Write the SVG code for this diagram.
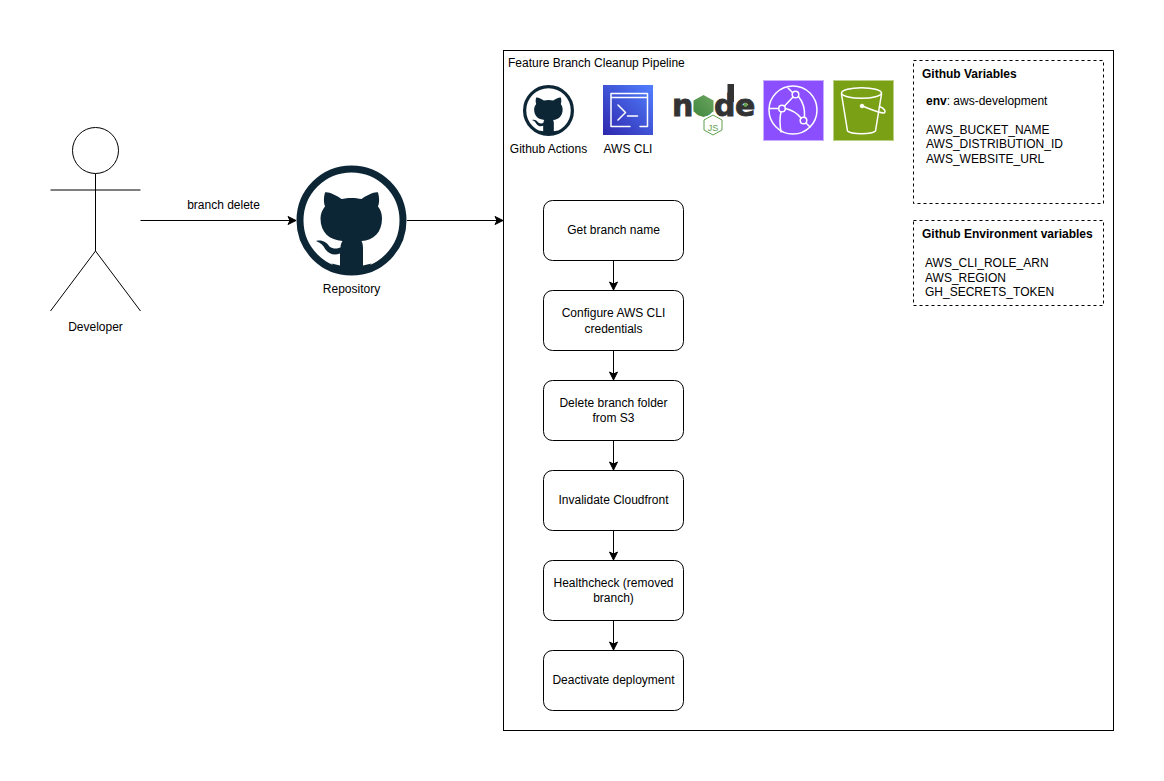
<svg xmlns="http://www.w3.org/2000/svg" width="1164" height="781" viewBox="0 0 1164 781">
<style>
text{font-family:"Liberation Sans",Arial,sans-serif;font-size:12px;fill:#000}
.m{text-anchor:middle}
.b{font-weight:bold}
.box{fill:#fff;stroke:#000;stroke-width:1}
.dash{fill:#fff;stroke:#000;stroke-width:1;stroke-dasharray:3 3}
.line{fill:none;stroke:#000;stroke-width:1}
.conn{fill:none;stroke:#000;stroke-width:1;marker-end:url(#arrow)}
.ico{fill:none;stroke:#fff;stroke-width:1.5;stroke-linecap:round;stroke-linejoin:round}
</style>
<defs>
<marker id="arrow" markerUnits="userSpaceOnUse" markerWidth="10" markerHeight="10" refX="9" refY="5" orient="auto">
<path d="M1,1 L9,5 L1,9 L3,5 Z" fill="#000" stroke="#000" stroke-width="1"/>
</marker>
<linearGradient id="cli" x1="0" y1="1" x2="1" y2="0">
<stop offset="0" stop-color="#2E27AD"/><stop offset="1" stop-color="#527FFF"/>
</linearGradient>
<linearGradient id="nodeg" x1="0" y1="1" x2="1" y2="0">
<stop offset="0" stop-color="#3F873F"/><stop offset="1" stop-color="#6DA55F"/>
</linearGradient>
<symbol id="gh" viewBox="-55 -55 110 110" overflow="visible">
<circle cx="0" cy="0" r="51.5" fill="#fff" stroke="#0D2636" stroke-width="7"/>
<path fill="#0D2636" d="M-26.5,-28 C-23,-29 -15,-25 -10,-21.5 C-4,-23 4,-23 10,-21.5 C15,-25 23,-29 26.5,-28 C28,-23 28,-18 26.5,-14 C29,-11 30.5,-7 30.5,-2 C30.5,12 22,20 10,20.5 C11,22 11.5,25 11.5,28 L11.5,45 L20,43 L14,50 L-14,50 L-20,43 L-11.5,45 L-11.5,33 C-17,35 -22,34 -26,29 C-28,25 -31,22 -35.5,20.5 C-29,19 -25,22 -22,26 C-18,29 -14,28 -11,27 C-11,24 -10,22 -9,20.5 C-22,19.5 -31,12 -31,-2 C-31,-7 -29,-11 -26.5,-14 C-28,-18 -28,-23 -26.5,-28 Z"/>
</symbol>
</defs>

<g id="pipeline">
<rect x="503.5" y="50.5" width="610" height="680" fill="#fff" stroke="#000"/>
<text x="508" y="67">Feature Branch Cleanup Pipeline</text>
</g>

<g id="connectors">
<path class="conn" d="M140.5,220.5 H296"/>
<path class="conn" d="M407,220.5 H503"/>
<path class="conn" d="M613.5,260.5 V290"/>
<path class="conn" d="M613.5,350.5 V380"/>
<path class="conn" d="M613.5,440.5 V470"/>
<path class="conn" d="M613.5,530.5 V560"/>
<path class="conn" d="M613.5,620.5 V650"/>
<text class="m" x="223.5" y="209">branch delete</text>
</g>

<g id="developer">
<circle class="line" cx="95.5" cy="150.5" r="23"/>
<path class="line" d="M95.5,173.5 V251 M50.5,190 H140.5 M50.5,311 L95.5,251 L140.5,311"/>
<text class="m" x="95.5" y="331">Developer</text>
</g>

<g id="repository">
<use href="#gh" x="296.5" y="165.5" width="110" height="110"/>
<text class="m" x="351.5" y="293">Repository</text>
</g>

<g id="github-actions">
<use href="#gh" x="523" y="85" width="51" height="51"/>
<text class="m" x="548.5" y="153">Github Actions</text>
</g>

<g id="aws-cli">
<rect x="603" y="85" width="50" height="50" fill="url(#cli)"/>
<path class="ico" stroke-width="1" d="M630,126.5 H611 V93.5 H647.5 V126.5 H640 M611,97.5 H647.5"/>
<path class="ico" d="M618,105 L625.5,112.5 L618,120 M627.5,116 H637.5"/>
<text class="m" x="628" y="153">AWS CLI</text>
</g>

<g id="nodejs">
<text x="672 693 714 735" y="116" style="font-family:'DejaVu Sans',sans-serif;font-size:30px;font-weight:bold;fill:#333;stroke:#333;stroke-width:.8">n<tspan style="fill:#4f8f4a;stroke:#4f8f4a">o</tspan>de</text>
<rect x="727.5" y="84" width="6.5" height="18" fill="#333"/>
<polygon points="703.5,95 713.5,100.5 713.5,111.5 703.5,117 693.5,111.5 693.5,100.5" fill="url(#nodeg)"/>
<circle cx="745.5" cy="105" r="2" fill="#5FA04E"/>
<polygon points="713,115 722,120 722,130 713,135 704,130 704,120" fill="#fff" stroke="#5FA04E"/>
<text class="m" x="713" y="131" style="font-size:9px;fill:#5FA04E">JS</text>
</g>

<g id="cloudfront">
<rect x="763.5" y="80.5" width="60" height="60" fill="#8C4FFF" stroke="#C9AEFF"/>
<circle class="ico" cx="793" cy="110" r="24"/>
<circle class="ico" cx="795.5" cy="94.5" r="3.3"/>
<circle class="ico" cx="782" cy="108.5" r="3.3"/>
<circle class="ico" cx="803.5" cy="120.5" r="3.3"/>
<path class="ico" d="M769.5,108.5 H778.5 M784.5,106 L793,97 M785.5,108.5 C792,110 797,113 801,118 M798.5,96.5 C803,102 805,110 804.5,117 M781,112 C779,120 780,126 781,132 M788,88 L792.5,92.5 M806,123 L810,127"/>
</g>

<g id="s3">
<rect x="833.5" y="80.5" width="60" height="60" fill="#7AA116" stroke="#BCD08A"/>
<ellipse class="ico" cx="861.5" cy="93" rx="20" ry="5.3"/>
<path class="ico" d="M841.5,94 L847.5,131 C851,134.5 872,134.5 875.5,131 L881.5,94"/>
<circle cx="862" cy="106" r="1.8" fill="#fff" stroke="#fff"/>
<path class="ico" d="M862,106 C870,109 880,113.5 884,113 C886.5,111.5 884,108 879.5,106.5"/>
</g>

<g id="github-variables">
<rect class="dash" x="913.5" y="60.5" width="190" height="143"/>
<text class="b" x="922" y="78">Github Variables</text>
<text x="926" y="105"><tspan class="b">env</tspan>: aws-development</text>
<text x="926" y="134">AWS_BUCKET_NAME</text>
<text x="926" y="148">AWS_DISTRIBUTION_ID</text>
<text x="926" y="163">AWS_WEBSITE_URL</text>
</g>

<g id="github-environment-variables">
<rect class="dash" x="913.5" y="220.5" width="190" height="85"/>
<text class="b" x="922" y="238">Github Environment variables</text>
<text x="925" y="267">AWS_CLI_ROLE_ARN</text>
<text x="925" y="282">AWS_REGION</text>
<text x="925" y="296">GH_SECRETS_TOKEN</text>
</g>

<g id="step-get-branch">
<rect class="box" x="543.5" y="200.5" width="140" height="60" rx="9"/>
<text class="m" x="613.5" y="234">Get branch name</text>
</g>
<g id="step-configure">
<rect class="box" x="543.5" y="290.5" width="140" height="60" rx="9"/>
<text class="m" x="613.5" y="317">Configure AWS CLI</text>
<text class="m" x="613.5" y="332.5">credentials</text>
</g>
<g id="step-delete">
<rect class="box" x="543.5" y="380.5" width="140" height="60" rx="9"/>
<text class="m" x="613.5" y="407">Delete branch folder</text>
<text class="m" x="613.5" y="422">from S3</text>
</g>
<g id="step-invalidate">
<rect class="box" x="543.5" y="470.5" width="140" height="60" rx="9"/>
<text class="m" x="613.5" y="504">Invalidate Cloudfront</text>
</g>
<g id="step-healthcheck">
<rect class="box" x="543.5" y="560.5" width="140" height="60" rx="9"/>
<text class="m" x="613.5" y="587">Healthcheck (removed</text>
<text class="m" x="613.5" y="602">branch)</text>
</g>
<g id="step-deactivate">
<rect class="box" x="543.5" y="650.5" width="140" height="60" rx="9"/>
<text class="m" x="613.5" y="684">Deactivate deployment</text>
</g>
</svg>
